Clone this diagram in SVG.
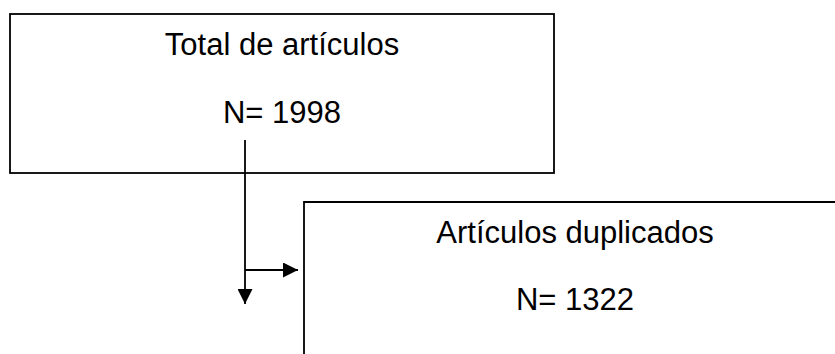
<svg xmlns="http://www.w3.org/2000/svg" width="835" height="354" viewBox="0 0 835 354">
<style>
.box{fill:#fff;stroke:#000;stroke-width:1.8}
.t{font-family:"Liberation Sans",Arial,sans-serif;font-size:31px;fill:#000;text-anchor:middle}
.c{stroke:#000;stroke-width:1.8;fill:none}
</style>
<defs>
<marker id="ah" viewBox="0 0 10 10" refX="10" refY="5" markerUnits="userSpaceOnUse" markerWidth="16" markerHeight="15" orient="auto">
<path d="M0,0 L10,5 L0,10 Z" fill="#000"/>
</marker>
</defs>
<g id="node-total">
<rect class="box" x="10" y="14" width="544" height="159"/>
<text class="t" x="282" y="55">Total de artículos</text>
<text class="t" x="282" y="123">N= 1998</text>
</g>
<g id="node-duplicados">
<path class="box" d="M304,360 L304,202 L850,202"/>
<text class="t" x="575" y="243">Artículos duplicados</text>
<text class="t" x="575" y="310">N= 1322</text>
</g>
<g id="connectors">
<line class="c" x1="245" y1="140" x2="245" y2="304" marker-end="url(#ah)"/>
<line class="c" x1="245" y1="270" x2="298" y2="270" marker-end="url(#ah)"/>
</g>
</svg>
